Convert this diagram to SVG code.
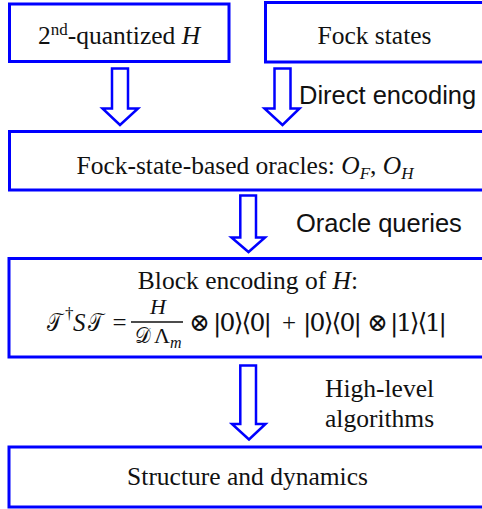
<svg xmlns="http://www.w3.org/2000/svg" width="482" height="509" viewBox="0 0 482 509">
<style>
.box{fill:#fff;stroke:#0000ff;stroke-width:3}
.arr{fill:#fff;stroke:#0000ff;stroke-width:2.5;stroke-linejoin:miter}
.t{font-family:"Liberation Serif","Times New Roman",serif;font-size:25.5px;fill:#111}
.a{font-family:"Liberation Sans",Arial,sans-serif;font-size:25.5px;fill:#111}
.m{font-family:"Liberation Serif","DejaVu Serif","Noto Sans",serif;font-size:25px;fill:#111}
.s{font-family:"DejaVu Serif","DejaVu Sans","Noto Sans",serif;font-size:25px;fill:#111}
.sm{font-size:17px}
.fr{font-size:22px}
.i{font-style:italic}
</style>
<rect width="482" height="509" fill="#fff"/>
<g id="connectors">
<polygon class="arr" points="112,68.5 128,68.5 128,108.5 138,108.5 120,125 102.5,108.5 112,108.5"/>
<polygon class="arr" points="274.5,68.5 290.5,68.5 290.5,108.5 299.5,108.5 282.5,125 264.5,108.5 274.5,108.5"/>
<polygon class="arr" points="240.3,195.5 256,195.5 256,237.5 265,237.5 248.5,252 231.5,237.5 240.3,237.5"/>
<polygon class="arr" points="240.3,365.5 256,365.5 256,424 265.5,424 249,439.5 232,424 240.3,424"/>
<text class="a" x="299" y="104">Direct encoding</text>
<text class="a" x="296" y="232">Oracle queries</text>
<text class="t" x="325" y="397">High-level</text>
<text class="t" x="325" y="427">algorithms</text>
</g>
<g id="node-hamiltonian">
<rect class="box" x="9.5" y="4" width="219.5" height="57.5"/>
<text class="t" x="119" y="44" text-anchor="middle">2<tspan font-size="17" dy="-9">nd</tspan><tspan dy="9">-quantized </tspan><tspan class="i">H</tspan></text>
</g>
<g id="node-fock">
<rect class="box" x="265.5" y="2.5" width="225" height="59.5"/>
<text class="t" x="374.5" y="44" text-anchor="middle">Fock states</text>
</g>
<g id="node-oracles">
<rect class="box" x="9.5" y="131.5" width="480" height="58.5"/>
<text class="t" x="245" y="174" text-anchor="middle">Fock-state-based oracles: <tspan class="i">O</tspan><tspan class="i" font-size="17" dy="5">F</tspan><tspan dy="-5">, </tspan><tspan class="i">O</tspan><tspan class="i" font-size="17" dy="5">H</tspan></text>
</g>
<g id="node-block">
<rect class="box" x="9" y="258.5" width="481" height="98.5"/>
<text class="t" x="248" y="288.5" text-anchor="middle">Block encoding of <tspan class="i">H</tspan>:</text>
<text class="s" x="47" y="331" textLength="15" lengthAdjust="spacingAndGlyphs">𝒯</text>
<text class="m sm" x="65" y="319">†</text>
<text class="m i" x="73" y="331">S</text>
<text class="s" x="88" y="331" textLength="15" lengthAdjust="spacingAndGlyphs">𝒯</text>
<text class="m" x="119.5" y="331" text-anchor="middle">=</text>
<text class="m i fr" x="158" y="313.5" text-anchor="middle">H</text>
<line x1="131" y1="322" x2="183" y2="322" stroke="#111" stroke-width="1.3"/>
<text class="s fr" x="135" y="343" textLength="16" lengthAdjust="spacingAndGlyphs">𝒟</text>
<text class="m fr" x="154" y="343">Λ</text>
<text class="m i" x="170" y="348" style="font-size:16px">m</text>
<text class="s" x="199.5" y="331" text-anchor="middle">⊗</text>
<text class="s" x="213" y="331" textLength="59" lengthAdjust="spacing">|0⟩⟨0|</text>
<text class="m" x="289" y="331" text-anchor="middle">+</text>
<text class="s" x="303" y="331" textLength="59" lengthAdjust="spacing">|0⟩⟨0|</text>
<text class="s" x="377.5" y="331" text-anchor="middle">⊗</text>
<text class="s" x="390" y="331" textLength="57" lengthAdjust="spacing">|1⟩⟨1|</text>
</g>
<g id="node-structure">
<rect class="box" x="9" y="447" width="481" height="60"/>
<text class="t" x="247.5" y="485" text-anchor="middle">Structure and dynamics</text>
</g>
</svg>
